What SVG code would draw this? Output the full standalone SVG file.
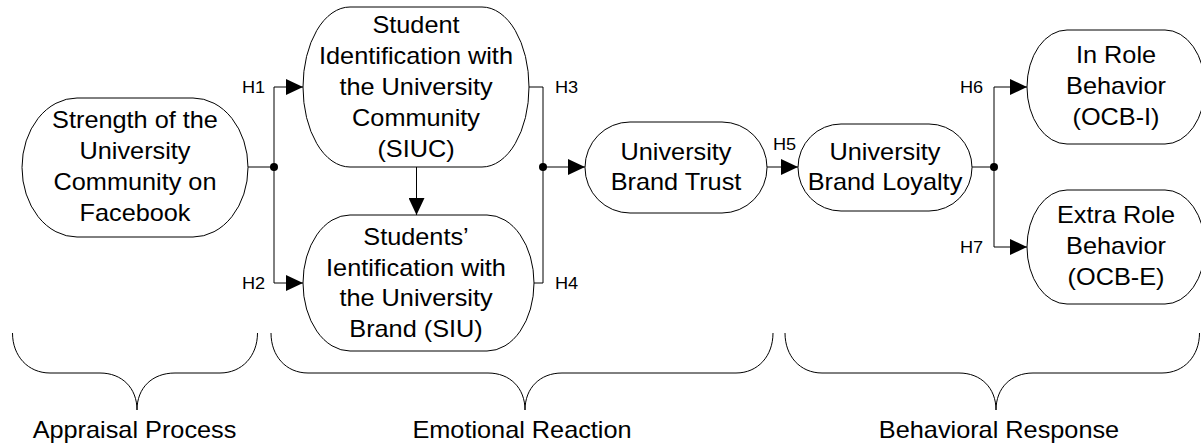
<svg xmlns="http://www.w3.org/2000/svg" width="1201" height="446" viewBox="0 0 1201 446">
<style>
.n{fill:#fff;stroke:#000;stroke-width:1}
.c{fill:none;stroke:#000;stroke-width:1}
.t{font-family:"Liberation Sans",Arial,sans-serif;font-size:23px;fill:#000;text-anchor:middle}
.h{font-family:"Liberation Sans",Arial,sans-serif;font-size:16.5px;fill:#000}
.b{fill:none;stroke:#000;stroke-width:1}
</style>
<defs>
<marker id="ah" markerUnits="userSpaceOnUse" markerWidth="17" markerHeight="16" refX="17" refY="8" orient="auto">
<path d="M0,0 L17,8 L0,16 z" fill="#000"/>
</marker>
</defs>
<rect width="1201" height="446" fill="#fff"/>
<g id="connectors">
<path class="c" d="M248,167 H274"/>
<path class="c" d="M274,87 V283"/>
<path class="c" d="M274,87 H303" marker-end="url(#ah)"/>
<path class="c" d="M274,283 H303" marker-end="url(#ah)"/>
<path class="c" d="M416.5,167 V215" marker-end="url(#ah)"/>
<path class="c" d="M529,87 H543 V283 H534"/>
<path class="c" d="M543,167 H585" marker-end="url(#ah)"/>
<path class="c" d="M767,167 H798" marker-end="url(#ah)"/>
<path class="c" d="M972,167 H994"/>
<path class="c" d="M994,87 V247"/>
<path class="c" d="M994,87 H1027" marker-end="url(#ah)"/>
<path class="c" d="M994,247 H1027" marker-end="url(#ah)"/>
<circle cx="274" cy="167" r="4"/>
<circle cx="543" cy="167" r="4"/>
<circle cx="994" cy="167" r="4"/>
<text class="h" transform="translate(242,93) scale(1.1,1)">H1</text>
<text class="h" transform="translate(242,289) scale(1.1,1)">H2</text>
<text class="h" transform="translate(555,93) scale(1.1,1)">H3</text>
<text class="h" transform="translate(555,289) scale(1.1,1)">H4</text>
<text class="h" transform="translate(773,150) scale(1.1,1)">H5</text>
<text class="h" transform="translate(960,93) scale(1.1,1)">H6</text>
<text class="h" transform="translate(960,253) scale(1.1,1)">H7</text>
</g>
<g id="node-strength">
<rect class="n" x="22" y="98" width="226" height="139" rx="55" ry="69.5"/>
<text class="t" transform="translate(135,128) scale(1.1,1)"><tspan x="0" y="0">Strength of the</tspan><tspan x="0" dy="31">University</tspan><tspan x="0" dy="31">Community on</tspan><tspan x="0" dy="31">Facebook</tspan></text>
</g>
<g id="node-siuc">
<rect class="n" x="303" y="7" width="226" height="160" rx="47" ry="80"/>
<text class="t" transform="translate(416,33) scale(1.1,1)"><tspan x="0" y="0">Student</tspan><tspan x="0" dy="31">Identification with</tspan><tspan x="0" dy="31">the University</tspan><tspan x="0" dy="31">Community</tspan><tspan x="0" dy="31">(SIUC)</tspan></text>
</g>
<g id="node-siu">
<rect class="n" x="303" y="215" width="231" height="136" rx="47" ry="68"/>
<text class="t" transform="translate(416,245) scale(1.1,1)"><tspan x="0" y="0">Students’</tspan><tspan x="0" dy="30.7">Ientification with</tspan><tspan x="0" dy="30.7">the University</tspan><tspan x="0" dy="30.7">Brand (SIU)</tspan></text>
</g>
<g id="node-trust">
<rect class="n" x="585" y="122" width="182" height="91" rx="45" ry="45.5"/>
<text class="t" transform="translate(676,160) scale(1.1,1)"><tspan x="0" y="0">University</tspan><tspan x="0" dy="30">Brand Trust</tspan></text>
</g>
<g id="node-loyalty">
<rect class="n" x="798" y="124" width="174" height="87" rx="43" ry="43.5"/>
<text class="t" transform="translate(885,160) scale(1.1,1)"><tspan x="0" y="0">University</tspan><tspan x="0" dy="30">Brand Loyalty</tspan></text>
</g>
<g id="node-inrole">
<rect class="n" x="1027" y="30" width="178" height="114" rx="40" ry="57"/>
<text class="t" transform="translate(1116,63) scale(1.1,1)"><tspan x="0" y="0">In Role</tspan><tspan x="0" dy="31">Behavior</tspan><tspan x="0" dy="31">(OCB-I)</tspan></text>
</g>
<g id="node-extrarole">
<rect class="n" x="1027" y="190" width="178" height="114" rx="40" ry="57"/>
<text class="t" transform="translate(1116,223) scale(1.1,1)"><tspan x="0" y="0">Extra Role</tspan><tspan x="0" dy="31">Behavior</tspan><tspan x="0" dy="31">(OCB-E)</tspan></text>
</g>
<g id="brace-appraisal">
<path class="b" d="M12.5,333 C12.5,356 28,373 50,373 L100,373 C122,373 137,388 137,410 C137,388 152,373 175,373 L220,373 C242,373 257.5,356 257.5,333"/>
<text class="t" transform="translate(134.5,438) scale(1.1,1)">Appraisal Process</text>
</g>
<g id="brace-emotional">
<path class="b" d="M271,333 C271,356 286,373 308,373 L488,373 C510,373 525,388 525,410 C525,388 540,373 562,373 L736,373 C758,373 773,356 773,333"/>
<text class="t" transform="translate(522,438) scale(1.1,1)">Emotional Reaction</text>
</g>
<g id="brace-behavioral">
<path class="b" d="M785,333 C785,356 800,373 822,373 L959,373 C981,373 996,388 996,410 C996,388 1011,373 1033,373 L1162,373 C1184,373 1199.5,356 1199.5,333"/>
<text class="t" transform="translate(999,438) scale(1.1,1)">Behavioral Response</text>
</g>
</svg>
